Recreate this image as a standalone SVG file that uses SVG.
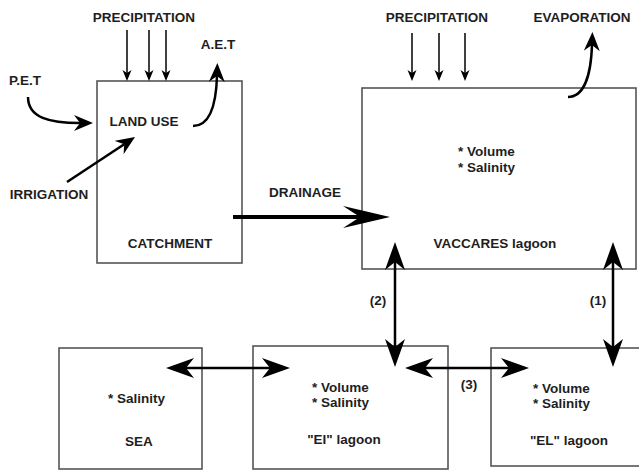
<svg xmlns="http://www.w3.org/2000/svg" width="639" height="472" viewBox="0 0 639 472">
<style>
text{font-family:"Liberation Sans",Arial,sans-serif;font-weight:bold;font-size:13.5px;fill:#1e1e1e}
.c{text-anchor:middle}
.box{fill:#fff;stroke:#555;stroke-width:1.6}
.ln{fill:none;stroke:#000}
</style>
<defs>
<marker id="hs" markerUnits="userSpaceOnUse" viewBox="-11 -5 11 10" markerWidth="11" markerHeight="10" refX="-8" refY="0" orient="auto"><path d="M0,0 L-11,-4.5 L-8,0 L-11,4.5 Z" fill="#000"/></marker>
<marker id="hd" markerUnits="userSpaceOnUse" viewBox="-47 -11 47 22" markerWidth="47" markerHeight="22" refX="-30" refY="0" orient="auto"><path d="M0,0 L-47,-11 L-30,0 L-47,11 Z" fill="#000"/></marker>
<marker id="hb" markerUnits="userSpaceOnUse" viewBox="-28 -10 28 20" markerWidth="28" markerHeight="20" refX="-20" refY="0" orient="auto-start-reverse"><path d="M0,0 L-28,-10 L-20,0 L-28,10 Z" fill="#000"/></marker>
<marker id="hc" markerUnits="userSpaceOnUse" viewBox="-19 -8 19 16" markerWidth="19" markerHeight="16" refX="-13" refY="0" orient="auto"><path d="M0,0 L-19,-8 L-13,0 L-19,8 Z" fill="#000"/></marker>
</defs>
<g id="catchment"><rect class="box" x="97" y="81" width="145" height="182"/><text class="c" x="144" y="126">LAND USE</text><text class="c" x="170" y="248">CATCHMENT</text></g>
<g id="vaccares"><rect class="box" x="362" y="88" width="274" height="181"/><text x="458" y="156">* Volume</text><text x="458" y="172">* Salinity</text><text class="c" x="495" y="248">VACCARES lagoon</text></g>
<g id="sea"><rect class="box" x="59" y="348" width="143" height="121"/><text x="108" y="403">* Salinity</text><text class="c" x="139" y="446">SEA</text></g>
<g id="ei"><rect class="box" x="253" y="346" width="195" height="123"/><text x="312" y="392">* Volume</text><text x="312" y="407">* Salinity</text><text class="c" x="344" y="444">"EI" lagoon</text></g>
<g id="el"><rect class="box" x="491" y="348" width="152" height="118"/><text x="533" y="393">* Volume</text><text x="533" y="408">* Salinity</text><text class="c" x="569" y="445">"EL" lagoon</text></g>
<g id="labels">
<text class="c" x="144" y="22">PRECIPITATION</text>
<text class="c" x="218" y="49">A.E.T</text>
<text class="c" x="25" y="85">P.E.T</text>
<text class="c" x="49" y="199">IRRIGATION</text>
<text class="c" x="305" y="197">DRAINAGE</text>
<text class="c" x="437" y="22">PRECIPITATION</text>
<text class="c" x="582" y="22">EVAPORATION</text>
<text class="c" x="378" y="305">(2)</text>
<text class="c" x="598" y="305">(1)</text>
<text class="c" x="469" y="389">(3)</text>
</g>
<g id="connectors">
<path class="ln" stroke-width="1.5" marker-end="url(#hs)" d="M127,30 V73"/>
<path class="ln" stroke-width="1.5" marker-end="url(#hs)" d="M149,30 V73"/>
<path class="ln" stroke-width="1.5" marker-end="url(#hs)" d="M166,30 V73"/>
<path class="ln" stroke-width="1.5" marker-end="url(#hs)" d="M412,33 V73"/>
<path class="ln" stroke-width="1.5" marker-end="url(#hs)" d="M439,33 V73"/>
<path class="ln" stroke-width="1.5" marker-end="url(#hs)" d="M465,33 V73"/>
<path class="ln" stroke-width="2.5" marker-end="url(#hc)" d="M28,97 C28,118 50,123 80,123"/>
<path class="ln" stroke-width="2.5" marker-end="url(#hc)" d="M193,126 C208,126 216,110 217,76"/>
<path class="ln" stroke-width="2.5" marker-end="url(#hc)" d="M67,182 L124.2,144.2"/>
<path class="ln" stroke-width="2.5" marker-end="url(#hc)" d="M568,97 C584,97 591,75 592,45"/>
<path class="ln" stroke-width="4" marker-end="url(#hd)" d="M233,217 H360"/>
<path class="ln" stroke-width="2.5" marker-start="url(#hb)" marker-end="url(#hb)" d="M395,262 V347"/>
<path class="ln" stroke-width="2.5" marker-start="url(#hb)" marker-end="url(#hb)" d="M613,262 V347"/>
<path class="ln" stroke-width="2.5" marker-start="url(#hb)" marker-end="url(#hb)" d="M425,368 H509"/>
<path class="ln" stroke-width="2.5" marker-start="url(#hb)" marker-end="url(#hb)" d="M186,368 H270"/>
</g>
</svg>
